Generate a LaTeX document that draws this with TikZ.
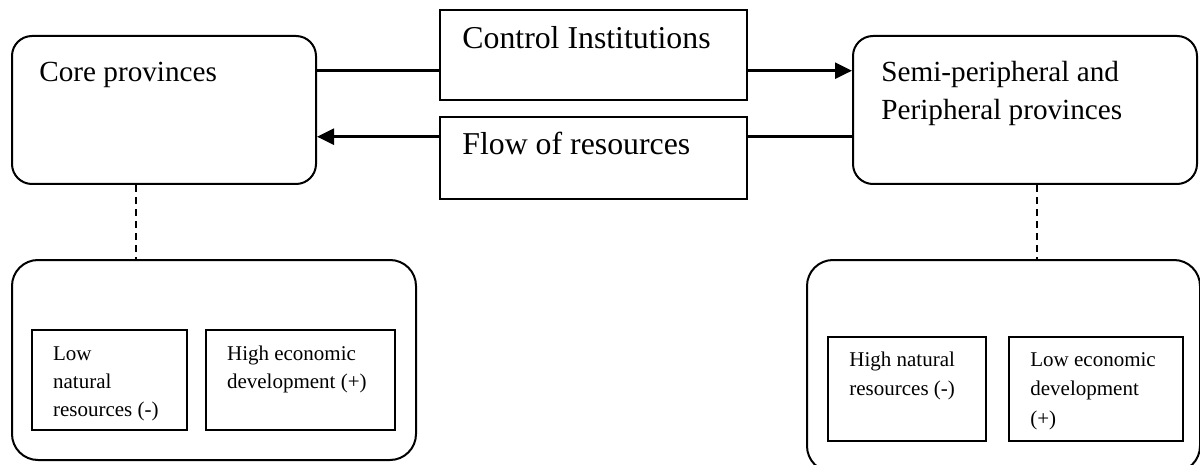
\documentclass[tikz,border=0pt]{standalone}
\usepackage{fontspec}
\setmainfont{Liberation Serif}
\usetikzlibrary{arrows.meta}
\tikzset{
  rbox/.style={draw=black, line width=1pt, rounded corners=10pt, inner sep=0pt},
  obox/.style={draw=black, line width=1pt, rounded corners=13pt, inner sep=0pt},
  sbox/.style={draw=black, line width=1pt, inner sep=0pt},
  bigtxt/.style={anchor=base west, inner sep=0pt, font=\fontsize{14.6}{18}\selectfont},
  midtxt/.style={anchor=base west, inner sep=0pt, font=\fontsize{15.9}{19}\selectfont},
  smalltxt/.style={anchor=base west, inner sep=0pt, font=\fontsize{10.5}{13}\selectfont},
  link/.style={line width=1.3pt},
  linkarrow/.style={line width=1.3pt, -{Triangle[length=8.5pt,width=8pt]}},
  dashlink/.style={line width=0.6pt, dash pattern=on 3.5pt off 2.5pt}
}
\begin{document}
\begin{tikzpicture}[x=0.5pt,y=-0.5pt]
\useasboundingbox (0,0) rectangle (1200,465);
% top boxes
\node[rbox, minimum width=152pt, minimum height=74pt] (core) at (164,110) {};
\node[sbox, minimum width=153.5pt, minimum height=45pt] (ctrl) at (593.5,55) {};
\node[sbox, minimum width=153.5pt, minimum height=41pt] (flow) at (593.5,158) {};
\node[rbox, minimum width=172pt, minimum height=74pt] (semi) at (1025,110) {};
% bottom boxes
\node[obox, minimum width=202pt, minimum height=100pt] (coreattr) at (214,360) {};
\node[sbox, minimum width=77.5pt, minimum height=50pt] (lownat) at (109.5,380) {};
\node[sbox, minimum width=94.5pt, minimum height=50pt] (higheco) at (300.5,380) {};
\node[obox, minimum width=196.5pt, minimum height=106pt] (periattr) at (1003.5,366) {};
\node[sbox, minimum width=79pt, minimum height=52pt] (highnat) at (907,389) {};
\node[sbox, minimum width=87pt, minimum height=52pt] (loweco) at (1096,389) {};
% texts
\node[bigtxt] (t1) at (39,81.7) {Core provinces};
\node[midtxt] (t2) at (462,48.3) {Control Institutions};
\node[midtxt] (t3) at (462,155) {Flow of resources};
\node[bigtxt] (t4) at (881,81.7) {Semi-peripheral and};
\node[bigtxt] (t5) at (881,119.3) {Peripheral provinces};
\node[smalltxt] (t6) at (52.7,360) {Low};
\node[smalltxt] (t7) at (52.7,388.3) {natural};
\node[smalltxt] (t8) at (52.7,416.7) {resources (-)};
\node[smalltxt] (t9) at (226.7,360) {High economic};
\node[smalltxt] (t10) at (226.7,388.3) {development (+)};
\node[smalltxt] (t11) at (849,366.7) {High natural};
\node[smalltxt] (t12) at (849,395) {resources (-)};
\node[smalltxt] (t13) at (1030,366.7) {Low economic};
\node[smalltxt] (t14) at (1030,395) {development};
\node[smalltxt] (t15) at (1030,425) {(+)};
% connectors
\coordinate (r1) at (0,70.7);
\coordinate (r2) at (0,136.7);
\coordinate (dl) at (136,0);
\coordinate (dr) at (1037,0);
\draw[link] (core.east |- r1) -- (ctrl.west |- r1);
\draw[linkarrow] (ctrl.east |- r1) -- (semi.west |- r1);
\draw[link] (semi.west |- r2) -- (flow.east |- r2);
\draw[linkarrow] (flow.west |- r2) -- (core.east |- r2);
\draw[dashlink] (core.south -| dl) -- (coreattr.north -| dl);
\draw[dashlink] (semi.south -| dr) -- (periattr.north -| dr);
\end{tikzpicture}
\end{document}
